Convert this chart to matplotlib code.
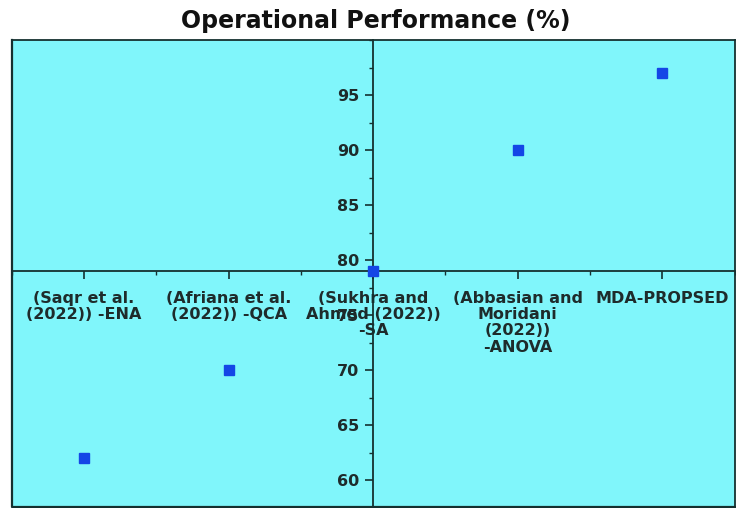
import matplotlib
matplotlib.use("Agg")
import matplotlib.pyplot as plt
from matplotlib.ticker import MultipleLocator

### data
methods = ["(Saqr et al.\n(2022)) -ENA",
           "(Afriana et al.\n(2022)) -QCA",
           "(Sukhra and\nAhmed (2022))\n-SA",
           "(Abbasian and\nMoridani\n(2022))\n-ANOVA",
           "MDA-PROPSED"]
performance = [62, 70, 79, 90, 97]
y_ticks = [60, 65, 70, 75, 80, 85, 90, 95]

plt.rcParams["font.family"] = ["DejaVu Sans"]
plt.rcParams["font.weight"] = "bold"

fig = plt.figure(figsize=(7.36, 5.08), dpi=100)
ax = fig.add_axes([0.016, 0.001, 0.982, 0.920])
ax.set_facecolor("#80f6fb")

positions = list(range(1, len(methods) + 1))
ax.plot(positions, performance, linestyle="none", marker="s", ms=7.5,
        color="#1446e6", zorder=5, clip_on=False)

ax.set_xlim(0.5, 5.5)
ax.set_ylim(57.5, 100)

# axes cross at the middle method
edge = "#15302f"
ax.spines["left"].set_position(("data", positions[2]))
ax.spines["bottom"].set_position(("data", performance[2]))
for side in ["left", "bottom", "top", "right"]:
    ax.spines[side].set_color(edge)
    ax.spines[side].set_linewidth(1.3)
# outer frame on the left and bottom
ax.plot([0, 0, 1], [1, 0, 0], transform=ax.transAxes, color=edge,
        lw=1.6, clip_on=False)

ax.set_xticks(positions)
ax.set_xticklabels(methods, fontsize=11.5, fontweight="bold",
                   linespacing=1.12, color="#1e2b2b")
ax.xaxis.set_minor_locator(MultipleLocator(0.5))
ax.set_yticks(y_ticks)
ax.set_yticklabels([str(v) for v in y_ticks], fontsize=11.5,
                   fontweight="bold", color="#1e2b2b")
ax.yaxis.set_minor_locator(MultipleLocator(2.5))
ax.tick_params(which="major", length=6, width=1.2, color=edge, pad=4)
ax.tick_params(which="minor", length=3, width=1.0, color=edge)
ax.tick_params(axis="x", which="major", pad=8)

fig.suptitle("Operational Performance (%)", fontsize=17,
             fontweight="bold", x=0.51, y=0.983, color="#111111")

fig.savefig("out.png", dpi=100)
